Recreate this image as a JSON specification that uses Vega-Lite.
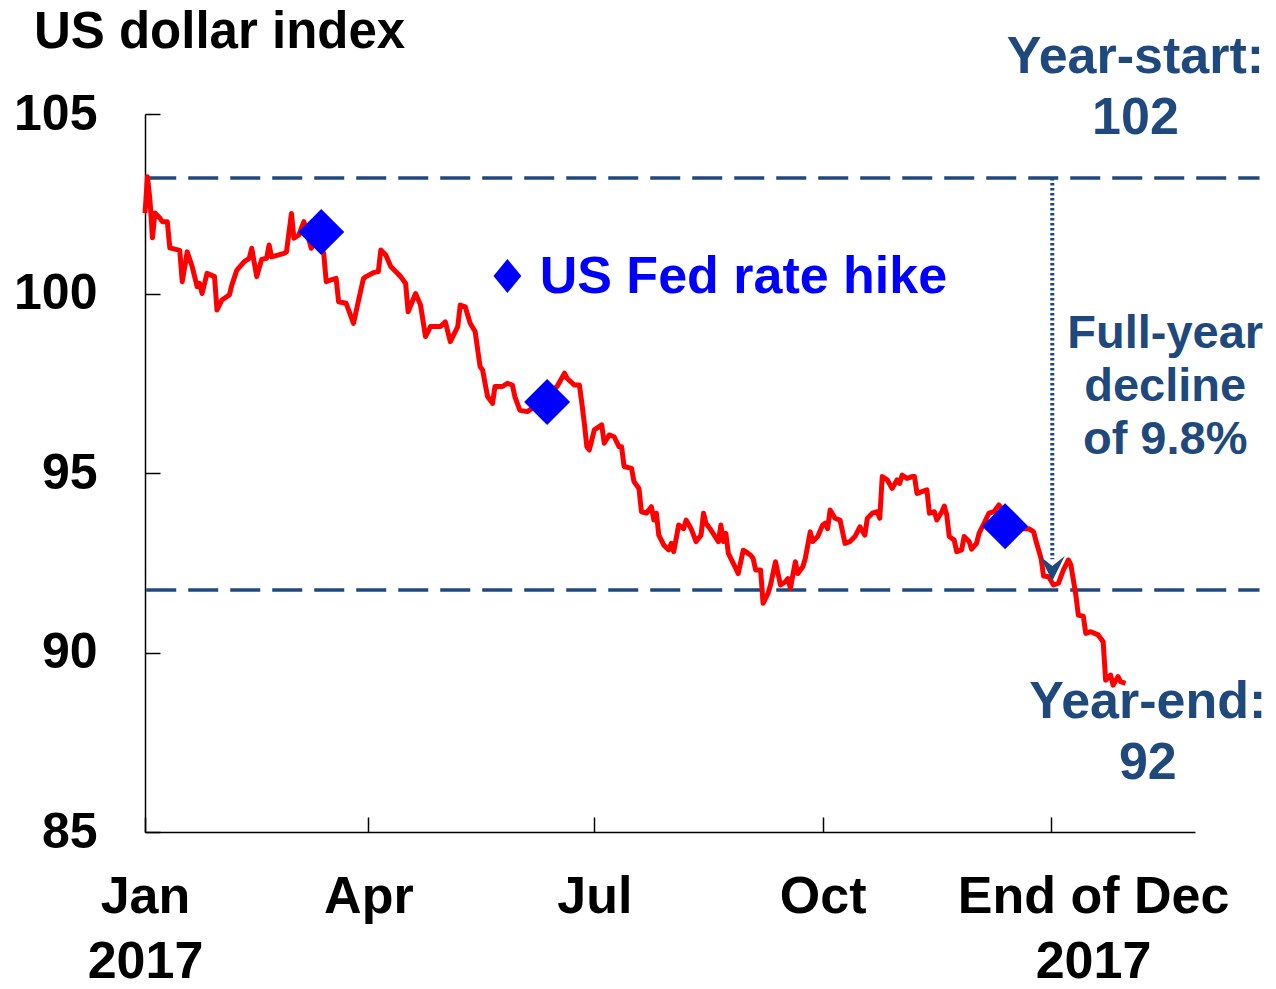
{
  "$schema": "https://vega.github.io/schema/vega-lite/v6.json",
  "autosize": {"type": "none"},
  "padding": {"left": 145, "top": 114, "right": 81, "bottom": 157},
  "width": 1050,
  "height": 718,
  "background": "white",
  "config": {"view": {"stroke": null}, "font": "Liberation Sans"},
  "datasets": {
    "series": [
      {"date":"2017-01-01T00:00","value":102.24},{"date":"2017-01-02T00:00","value":103.25},{"date":"2017-01-03T00:00","value":102.6},{"date":"2017-01-04T00:00","value":101.55},{"date":"2017-01-05T00:00","value":102.24},{"date":"2017-01-07T00:00","value":102.1},{"date":"2017-01-08T00:00","value":102.0},{"date":"2017-01-10T00:00","value":102.0},{"date":"2017-01-11T00:00","value":101.27},{"date":"2017-01-15T00:00","value":101.2},{"date":"2017-01-16T00:00","value":100.33},{"date":"2017-01-18T00:00","value":101.16},{"date":"2017-01-20T00:00","value":100.75},{"date":"2017-01-22T00:00","value":100.19},{"date":"2017-01-23T00:00","value":100.28},{"date":"2017-01-24T00:00","value":100.0},{"date":"2017-01-26T00:00","value":100.56},{"date":"2017-01-29T00:00","value":100.47},{"date":"2017-01-30T00:00","value":99.54},
      {"date":"2017-02-01T00:00","value":99.82},{"date":"2017-02-04T00:00","value":99.96},{"date":"2017-02-05T00:00","value":100.24},{"date":"2017-02-07T00:00","value":100.65},{"date":"2017-02-10T00:00","value":100.89},{"date":"2017-02-12T00:00","value":100.98},{"date":"2017-02-13T00:00","value":101.26},{"date":"2017-02-15T00:00","value":100.47},{"date":"2017-02-17T00:00","value":100.95},{"date":"2017-02-19T00:00","value":100.98},{"date":"2017-02-20T00:00","value":101.35},{"date":"2017-02-21T00:00","value":101.02},{"date":"2017-02-26T00:00","value":101.12},{"date":"2017-02-27T00:00","value":101.16},
      {"date":"2017-03-01T00:00","value":102.23},{"date":"2017-03-02T00:00","value":101.54},{"date":"2017-03-04T00:00","value":101.63},{"date":"2017-03-06T00:00","value":102.0},{"date":"2017-03-09T00:00","value":101.26},{"date":"2017-03-11T00:00","value":101.5},{"date":"2017-03-14T00:00","value":101.12},{"date":"2017-03-15T00:00","value":100.33},{"date":"2017-03-17T00:00","value":100.38},{"date":"2017-03-19T00:00","value":100.42},{"date":"2017-03-20T00:00","value":99.77},{"date":"2017-03-23T00:00","value":99.73},{"date":"2017-03-26T00:00","value":99.17},{"date":"2017-03-28T00:00","value":99.8},{"date":"2017-03-30T00:00","value":100.42},{"date":"2017-03-31T00:00","value":100.47},
      {"date":"2017-04-03T00:00","value":100.58},{"date":"2017-04-05T00:00","value":100.61},{"date":"2017-04-06T00:00","value":101.21},{"date":"2017-04-08T00:00","value":101.07},{"date":"2017-04-10T00:00","value":100.75},{"date":"2017-04-12T00:00","value":100.61},{"date":"2017-04-14T00:00","value":100.47},{"date":"2017-04-16T00:00","value":100.28},{"date":"2017-04-17T00:00","value":99.49},{"date":"2017-04-20T00:00","value":100.0},{"date":"2017-04-22T00:00","value":99.68},{"date":"2017-04-24T00:00","value":98.8},{"date":"2017-04-26T00:00","value":99.08},{"date":"2017-04-30T00:00","value":99.08},
      {"date":"2017-05-02T00:00","value":99.21},{"date":"2017-05-04T00:00","value":98.66},{"date":"2017-05-07T00:00","value":99.08},{"date":"2017-05-08T00:00","value":99.68},{"date":"2017-05-10T00:00","value":99.63},{"date":"2017-05-12T00:00","value":99.17},{"date":"2017-05-14T00:00","value":98.94},{"date":"2017-05-16T00:00","value":97.96},{"date":"2017-05-17T00:00","value":97.87},{"date":"2017-05-18T00:00","value":97.5},{"date":"2017-05-19T00:00","value":97.13},{"date":"2017-05-21T00:00","value":96.94},{"date":"2017-05-22T00:00","value":97.41},{"date":"2017-05-25T00:00","value":97.41},{"date":"2017-05-27T00:00","value":97.5},{"date":"2017-05-29T00:00","value":97.45},{"date":"2017-05-30T00:00","value":97.13},{"date":"2017-05-31T00:00","value":96.94},
      {"date":"2017-06-01T00:00","value":96.75},{"date":"2017-06-04T00:00","value":96.71},{"date":"2017-06-07T00:00","value":96.85},{"date":"2017-06-10T00:00","value":97.05},{"date":"2017-06-13T00:00","value":97.25},{"date":"2017-06-16T00:00","value":97.41},{"date":"2017-06-19T00:00","value":97.78},{"date":"2017-06-20T00:00","value":97.64},{"date":"2017-06-23T00:00","value":97.45},{"date":"2017-06-25T00:00","value":97.45},{"date":"2017-06-26T00:00","value":96.94},{"date":"2017-06-27T00:00","value":96.38},{"date":"2017-06-28T00:00","value":95.73},{"date":"2017-06-29T00:00","value":95.64},
      {"date":"2017-07-01T00:00","value":96.2},{"date":"2017-07-04T00:00","value":96.34},{"date":"2017-07-05T00:00","value":95.83},{"date":"2017-07-07T00:00","value":96.06},{"date":"2017-07-09T00:00","value":96.01},{"date":"2017-07-11T00:00","value":95.73},{"date":"2017-07-12T00:00","value":95.73},{"date":"2017-07-13T00:00","value":95.18},{"date":"2017-07-16T00:00","value":95.13},{"date":"2017-07-17T00:00","value":94.76},{"date":"2017-07-19T00:00","value":94.57},{"date":"2017-07-20T00:00","value":93.92},{"date":"2017-07-22T00:00","value":93.88},{"date":"2017-07-24T00:00","value":94.06},{"date":"2017-07-25T00:00","value":93.69},{"date":"2017-07-26T00:00","value":93.88},{"date":"2017-07-27T00:00","value":93.27},{"date":"2017-07-29T00:00","value":92.99},{"date":"2017-07-31T00:00","value":92.86},
      {"date":"2017-08-01T00:00","value":93.04},{"date":"2017-08-02T00:00","value":92.81},{"date":"2017-08-04T00:00","value":93.55},{"date":"2017-08-06T00:00","value":93.45},{"date":"2017-08-07T00:00","value":93.69},{"date":"2017-08-09T00:00","value":93.45},{"date":"2017-08-11T00:00","value":93.09},{"date":"2017-08-13T00:00","value":93.27},{"date":"2017-08-14T00:00","value":93.88},{"date":"2017-08-15T00:00","value":93.6},{"date":"2017-08-17T00:00","value":93.41},{"date":"2017-08-20T00:00","value":93.09},{"date":"2017-08-21T00:00","value":93.55},{"date":"2017-08-22T00:00","value":93.09},{"date":"2017-08-23T00:00","value":93.32},{"date":"2017-08-24T00:00","value":92.76},{"date":"2017-08-26T00:00","value":92.48},{"date":"2017-08-28T00:00","value":92.2},{"date":"2017-08-30T00:00","value":92.85},{"date":"2017-08-31T00:00","value":92.81},
      {"date":"2017-09-02T00:00","value":92.71},{"date":"2017-09-03T00:00","value":92.62},{"date":"2017-09-04T00:00","value":92.3},{"date":"2017-09-06T00:00","value":92.3},{"date":"2017-09-07T00:00","value":91.37},{"date":"2017-09-09T00:00","value":91.65},{"date":"2017-09-10T00:00","value":91.88},{"date":"2017-09-12T00:00","value":92.53},{"date":"2017-09-14T00:00","value":91.88},{"date":"2017-09-16T00:00","value":91.97},{"date":"2017-09-17T00:00","value":92.06},{"date":"2017-09-18T00:00","value":91.79},{"date":"2017-09-20T00:00","value":92.53},{"date":"2017-09-21T00:00","value":92.2},{"date":"2017-09-23T00:00","value":92.39},{"date":"2017-09-24T00:00","value":92.62},{"date":"2017-09-26T00:00","value":93.36},{"date":"2017-09-27T00:00","value":93.09},{"date":"2017-09-29T00:00","value":93.23},
      {"date":"2017-10-01T00:00","value":93.55},{"date":"2017-10-02T00:00","value":93.6},{"date":"2017-10-03T00:00","value":93.45},{"date":"2017-10-04T00:00","value":93.97},{"date":"2017-10-06T00:00","value":93.74},{"date":"2017-10-08T00:00","value":93.69},{"date":"2017-10-10T00:00","value":93.04},{"date":"2017-10-12T00:00","value":93.09},{"date":"2017-10-14T00:00","value":93.23},{"date":"2017-10-16T00:00","value":93.5},{"date":"2017-10-18T00:00","value":93.27},{"date":"2017-10-19T00:00","value":93.74},{"date":"2017-10-21T00:00","value":93.88},{"date":"2017-10-23T00:00","value":93.92},{"date":"2017-10-24T00:00","value":93.74},{"date":"2017-10-25T00:00","value":94.9},{"date":"2017-10-27T00:00","value":94.81},{"date":"2017-10-29T00:00","value":94.57},{"date":"2017-10-31T00:00","value":94.81},
      {"date":"2017-11-01T00:00","value":94.71},{"date":"2017-11-02T00:00","value":94.94},{"date":"2017-11-04T00:00","value":94.85},{"date":"2017-11-06T00:00","value":94.9},{"date":"2017-11-07T00:00","value":94.9},{"date":"2017-11-08T00:00","value":94.43},{"date":"2017-11-10T00:00","value":94.48},{"date":"2017-11-12T00:00","value":94.53},{"date":"2017-11-13T00:00","value":93.88},{"date":"2017-11-15T00:00","value":93.92},{"date":"2017-11-16T00:00","value":93.69},{"date":"2017-11-18T00:00","value":93.92},{"date":"2017-11-19T00:00","value":94.08},{"date":"2017-11-20T00:00","value":93.83},{"date":"2017-11-21T00:00","value":93.23},{"date":"2017-11-23T00:00","value":93.13},{"date":"2017-11-24T00:00","value":92.81},{"date":"2017-11-26T00:00","value":92.86},{"date":"2017-11-27T00:00","value":93.23},{"date":"2017-11-29T00:00","value":93.09},{"date":"2017-11-30T00:00","value":92.88},
      {"date":"2017-12-02T00:00","value":93.04},{"date":"2017-12-03T00:00","value":93.32},{"date":"2017-12-05T00:00","value":93.6},{"date":"2017-12-07T00:00","value":93.88},{"date":"2017-12-09T00:00","value":93.92},{"date":"2017-12-11T00:00","value":94.11},{"date":"2017-12-14T00:00","value":93.85},{"date":"2017-12-17T00:00","value":93.6},{"date":"2017-12-20T00:00","value":93.45},{"date":"2017-12-23T00:00","value":93.45},{"date":"2017-12-25T00:00","value":93.36},{"date":"2017-12-26T00:00","value":93.09},{"date":"2017-12-28T00:00","value":92.62},{"date":"2017-12-29T00:00","value":92.13},{"date":"2017-12-31T00:00","value":92.11},
      {"date":"2018-01-02T00:00","value":91.88},{"date":"2018-01-04T00:00","value":91.93},{"date":"2018-01-06T00:00","value":92.3},{"date":"2018-01-08T00:00","value":92.58},{"date":"2018-01-09T00:00","value":92.44},{"date":"2018-01-11T00:00","value":91.6},{"date":"2018-01-12T00:00","value":91.04},{"date":"2018-01-14T00:00","value":91.01},{"date":"2018-01-15T00:00","value":90.53},{"date":"2018-01-17T00:00","value":90.58},{"date":"2018-01-20T00:00","value":90.49},{"date":"2018-01-22T00:00","value":90.3},{"date":"2018-01-23T00:00","value":89.23},{"date":"2018-01-25T00:00","value":89.37},{"date":"2018-01-26T00:00","value":89.09},{"date":"2018-01-28T00:00","value":89.33},{"date":"2018-01-29T00:00","value":89.19},{"date":"2018-01-31T00:00","value":89.14}
    ],
    "hikes": [
      {"date":"2017-03-13T00:00","value":101.71},
      {"date":"2017-06-12T00:00","value":96.98},
      {"date":"2017-12-13T12:00","value":93.52}
    ],
    "levels": [
      {"date":"2017-01-01T12:00","date2":"2018-03-26T00:00","value":103.22,"name":"Year-start"},
      {"date":"2017-01-01T12:00","date2":"2018-03-26T00:00","value":91.74,"name":"Year-end"}
    ],
    "decline": [
      {"date":"2018-01-01T12:00","value":103.22,"value2":92.6}
    ],
    "arrowhead": [
      {"date":"2018-01-01T12:00","value":92.34}
    ],
    "legend": [
      {"date":"2017-05-27T00:00","value":100.49,"label":"US Fed rate hike","date_label":"2017-06-09T00:00","value_label":100.01}
    ],
    "heading": [
      {"date":"2016-11-17T06:00","value":106.84,"text":"US dollar index"}
    ],
    "notes_big": [
      {"date":"2018-02-04T00:00","value":106.14,"text":["Year-start:","102"]},
      {"date":"2018-02-09T00:00","value":88.18,"text":["Year-end:","92"]}
    ],
    "notes_mid": [
      {"date":"2018-02-16T00:00","value":98.48,"text":["Full-year","decline","of 9.8%"]}
    ]
  },
  "encoding": {
    "x": {
      "field": "date", "type": "temporal",
      "scale": {"domain": [{"year": 2017, "month": 1, "date": 1}, {"year": 2018, "month": 2, "date": 28}]},
      "axis": {
        "title": null, "grid": false,
        "values": [{"year": 2017, "month": 1, "date": 1}, {"year": 2017, "month": 4, "date": 1}, {"year": 2017, "month": 7, "date": 1}, {"year": 2017, "month": 10, "date": 1}, {"year": 2018, "month": 1, "date": 1}],
        "labelExpr": "year(datum.value) == 2018 ? ['End of Dec', '2017'] : month(datum.value) == 0 ? ['Jan', '2017'] : timeFormat(datum.value, '%b')",
        "labelOffset": {"condition": {"test": "year(datum.value) == 2018", "value": 42}, "value": 0},
        "tickSize": -15, "tickColor": "black", "tickWidth": 1.5,
        "domainColor": "black", "domainWidth": 1.5,
        "labelPadding": 54, "labelFontSize": 52, "labelFont": "Liberation Sans", "labelFontWeight": "bold", "labelColor": "black",
        "labelLineHeight": 65, "labelFlush": false, "labelOverlap": false, "labelBound": false, "labelLimit": 500
      }
    },
    "y": {
      "field": "value", "type": "quantitative",
      "scale": {"domain": [85, 105], "nice": false, "zero": false},
      "axis": {
        "title": null, "grid": false, "values": [85, 90, 95, 100, 105],
        "tickSize": -15, "tickColor": "black", "tickWidth": 1.5,
        "domainColor": "black", "domainWidth": 1.5,
        "labelPadding": 63, "labelFontSize": 50, "labelFont": "Liberation Sans", "labelFontWeight": "bold", "labelColor": "black",
        "labelFlush": false, "labelOverlap": false, "labelLimit": 300
      }
    }
  },
  "layer": [
    {
      "data": {"name": "levels"},
      "mark": {"type": "rule", "stroke": "#1F497D", "strokeWidth": 3.5, "strokeDash": [30, 12], "clip": false},
      "encoding": {"x2": {"field": "date2"}}
    },
    {
      "data": {"name": "series"},
      "mark": {"type": "line", "stroke": "#FF0000", "strokeWidth": 5, "strokeJoin": "round"}
    },
    {
      "data": {"name": "decline"},
      "mark": {"type": "rule", "stroke": "#1F497D", "strokeWidth": 4, "strokeDash": [2.7, 2.3]},
      "encoding": {"y2": {"field": "value2"}}
    },
    {
      "data": {"name": "arrowhead"},
      "mark": {"type": "point", "shape": "M-1,-1L0,-0.2L1,-1L0,1Z", "size": 625, "filled": true, "fill": "#1F497D", "opacity": 1, "strokeWidth": 0}
    },
    {
      "data": {"name": "hikes"},
      "mark": {"type": "point", "shape": "diamond", "size": 2116, "filled": true, "fill": "#0000FF", "opacity": 1, "strokeWidth": 0}
    },
    {
      "data": {"name": "legend"},
      "mark": {"type": "point", "shape": "M-0.82,0L0,-1L0.82,0L0,1Z", "size": 1156, "filled": true, "fill": "#0000FF", "opacity": 1, "strokeWidth": 0}
    },
    {
      "data": {"name": "legend"},
      "mark": {"type": "text", "align": "left", "baseline": "alphabetic", "font": "Liberation Sans", "fontWeight": "bold", "fontSize": 52, "fill": "#0000FF"},
      "encoding": {
        "x": {"field": "date_label", "type": "temporal"},
        "y": {"field": "value_label", "type": "quantitative"},
        "text": {"field": "label"}
      }
    },
    {
      "data": {"name": "heading"},
      "mark": {"type": "text", "align": "left", "baseline": "alphabetic", "font": "Liberation Sans", "fontWeight": "bold", "fontSize": 51, "fill": "black", "clip": false},
      "encoding": {"text": {"field": "text"}}
    },
    {
      "data": {"name": "notes_big"},
      "mark": {"type": "text", "align": "center", "baseline": "alphabetic", "font": "Liberation Sans", "fontWeight": "bold", "fontSize": 52, "lineHeight": 61, "fill": "#1F497D", "clip": false},
      "encoding": {"text": {"field": "text"}}
    },
    {
      "data": {"name": "notes_mid"},
      "mark": {"type": "text", "align": "center", "baseline": "alphabetic", "font": "Liberation Sans", "fontWeight": "bold", "fontSize": 47, "lineHeight": 53, "fill": "#1F497D", "clip": false},
      "encoding": {"text": {"field": "text"}}
    }
  ]
}
